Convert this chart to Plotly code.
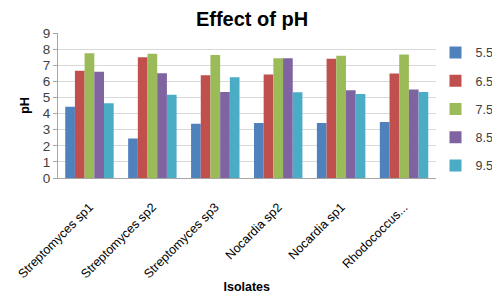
import plotly.graph_objects as go

categories = ["Streptomyces sp1", "Streptomyces sp2", "Streptomyces sp3",
              "Nocardia sp2", "Nocardia sp1", "Rhodococcus..."]
series_names = ["5.5", "6.5", "7.5", "8.5", "9.5"]
ph_5_5 = [4.43, 2.45, 3.37, 3.41, 3.41, 3.47]
ph_6_5 = [6.65, 7.50, 6.38, 6.42, 7.40, 6.48]
ph_7_5 = [7.75, 7.71, 7.63, 7.44, 7.59, 7.67]
ph_8_5 = [6.59, 6.50, 5.34, 7.44, 5.45, 5.49]
ph_9_5 = [4.64, 5.17, 6.26, 5.32, 5.22, 5.34]
colors = ["#4F81BD", "#C0504D", "#9BBB59", "#8064A2", "#4BACC6"]

values = [ph_5_5, ph_6_5, ph_7_5, ph_8_5, ph_9_5]
font = "Liberation Sans"

fig = go.Figure()
for name, vals, col in zip(series_names, values, colors):
    fig.add_trace(go.Bar(x=categories, y=vals, name=name, legendgroup=name,
                         marker=dict(color=col, line=dict(width=0))))

fig.update_layout(
    width=500, height=298,
    paper_bgcolor="white", plot_bgcolor="white",
    margin=dict(l=50, r=66, t=25, b=128),
    font=dict(family=font, size=12, color="#404040"),
    title=dict(text="<b>Effect of pH</b>", xref="container", x=0.488, xanchor="center",
               yref="container", y=0.988, yanchor="top", pad=dict(t=0, b=0),
               font=dict(family=font, size=20, color="black")),
    barmode="group", bargap=0.23, bargroupgap=0,
    legend=dict(xref="container", x=0.855, xanchor="left",
                yref="container", y=0.9, yanchor="top",
                traceorder="grouped", tracegroupgap=9,
                font=dict(family=font, size=12.5, color="#404040"),
                itemwidth=30),
    showlegend=True,
)
fig.update_xaxes(
    title=dict(text="<b>Isolates</b>", font=dict(family=font, size=12.5, color="black"), standoff=2),
    tickangle=-45, showline=True, linecolor="#a6a6a6", linewidth=1,
    ticks="outside", ticklen=16, tickcolor="rgba(0,0,0,0)",
    tickfont=dict(family=font, size=12.5, color="black"), automargin=False,
)
fig.update_yaxes(
    title=dict(text="<b>pH</b>", font=dict(family=font, size=12.5, color="black"), standoff=10),
    range=[0, 9], dtick=1, showgrid=True, gridcolor="#d9d9d9", gridwidth=1,
    showline=True, linecolor="#a6a6a6", linewidth=1,
    ticks="outside", ticklen=4, tickcolor="#a6a6a6",
    tickfont=dict(family=font, size=13.5, color="#404040"), zeroline=False, automargin=False,
)
fig.write_html("out.html")
